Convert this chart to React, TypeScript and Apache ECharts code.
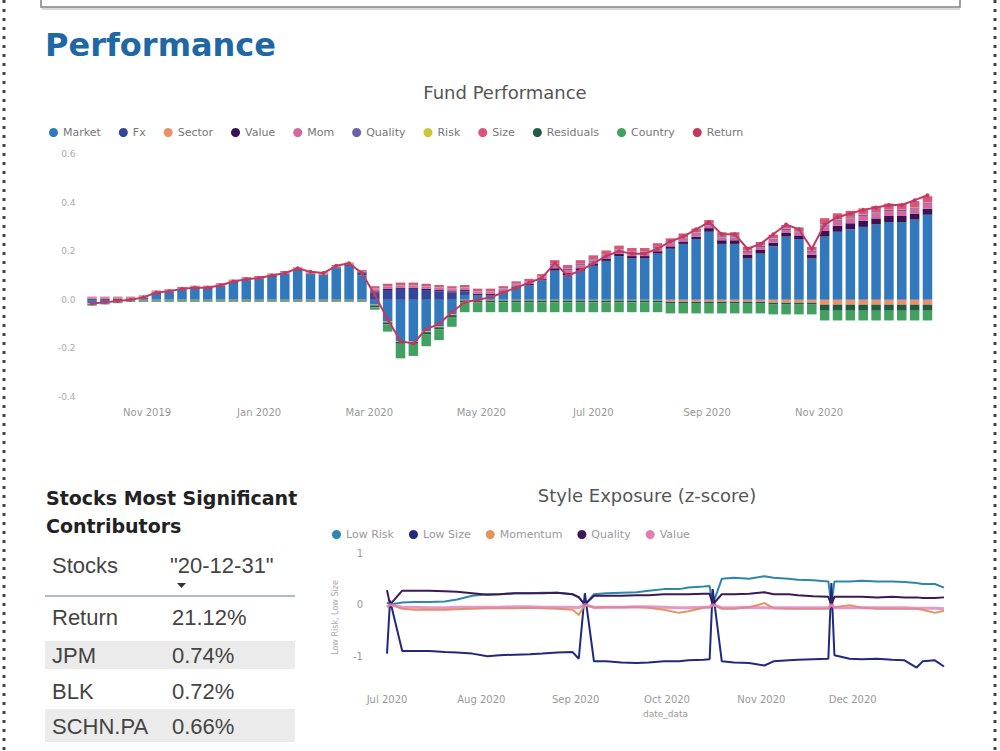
import React, { useEffect, useRef } from 'react';
import * as echarts from 'echarts';

// ---- Fund Performance: weekly attribution (Wednesday of each week) ----
const weeks = [
  '2019-10-02', '2019-10-09', '2019-10-16', '2019-10-23', '2019-10-30',
  '2019-11-06', '2019-11-13', '2019-11-20', '2019-11-27',
  '2019-12-04', '2019-12-11', '2019-12-18', '2019-12-25',
  '2020-01-01', '2020-01-08', '2020-01-15', '2020-01-22', '2020-01-29',
  '2020-02-05', '2020-02-12', '2020-02-19', '2020-02-26',
  '2020-03-04', '2020-03-11', '2020-03-18', '2020-03-25',
  '2020-04-01', '2020-04-08', '2020-04-15', '2020-04-22', '2020-04-29',
  '2020-05-06', '2020-05-13', '2020-05-20', '2020-05-27',
  '2020-06-03', '2020-06-10', '2020-06-17', '2020-06-24',
  '2020-07-01', '2020-07-08', '2020-07-15', '2020-07-22', '2020-07-29',
  '2020-08-05', '2020-08-12', '2020-08-19', '2020-08-26',
  '2020-09-02', '2020-09-09', '2020-09-16', '2020-09-23', '2020-09-30',
  '2020-10-07', '2020-10-14', '2020-10-21', '2020-10-28',
  '2020-11-04', '2020-11-11', '2020-11-18', '2020-11-25',
  '2020-12-02', '2020-12-09', '2020-12-16', '2020-12-23', '2020-12-30',
];

const market = [
  -0.015, -0.01, -0.005, 0.0, 0.005, 0.025, 0.03, 0.04, 0.045, 0.045, 0.055,
  0.07, 0.08, 0.085, 0.095, 0.105, 0.12, 0.105, 0.1, 0.13, 0.14, 0.1,
  -0.02, -0.09, -0.17, -0.17, -0.13, -0.11, -0.06, 0.02,
  0.02, 0.02, 0.03, 0.05, 0.06, 0.08, 0.12, 0.1, 0.12, 0.14,
  0.16, 0.18, 0.17, 0.17, 0.19, 0.21, 0.23, 0.25, 0.28, 0.23,
  0.23, 0.17, 0.19, 0.22, 0.26, 0.25, 0.17, 0.26, 0.28, 0.29,
  0.3, 0.31, 0.32, 0.32, 0.33, 0.35,
];
const fx = [
  0, 0, 0, 0, 0, 0, 0, 0, 0, 0, 0, 0, 0, 0, 0, 0, 0, 0, 0, 0, 0, 0.01,
  0.03, 0.04, 0.045, 0.045, 0.04, 0.035, 0.03, 0.015,
  0, 0, 0, 0, 0, 0, 0, 0, 0, 0,
  0, 0, 0, 0, 0, 0, 0, 0, 0, 0,
  0, 0, 0, 0, 0, 0, 0, 0, 0, 0,
  0, 0, 0, 0, 0, 0,
];
const sector = [
  -0.003, -0.003, -0.003, -0.003, -0.003, -0.003, -0.003, -0.003, -0.003, -0.003, -0.003,
  -0.003, -0.003, -0.003, -0.003, -0.003, -0.003, -0.003, -0.003, -0.003, -0.003, -0.003,
  -0.003, -0.003, -0.003, -0.003, -0.003, -0.003, -0.003, -0.003,
  -0.003, -0.003, -0.003, -0.003, -0.003, -0.003, -0.003, -0.003, -0.003, -0.003,
  -0.003, -0.003, -0.003, -0.003, -0.003, -0.008, -0.008, -0.008, -0.008, -0.008,
  -0.008, -0.008, -0.008, -0.012, -0.012, -0.012, -0.012, -0.02, -0.02, -0.02,
  -0.02, -0.02, -0.02, -0.02, -0.02, -0.02,
];
const value = [
  0.003, 0.003, 0.003, 0.003, 0.003, 0.003, 0.003, 0.003, 0.003, 0.003, 0.003,
  0.003, 0.003, 0.003, 0.003, 0.003, 0.003, 0.003, 0.003, 0.003, 0.003, 0.003,
  0.005, 0.005, 0.005, 0.005, 0.005, 0.005, 0.005, 0.005,
  0.005, 0.005, 0.005, 0.005, 0.005, 0.005, 0.01, 0.01, 0.01, 0.01,
  0.01, 0.01, 0.01, 0.01, 0.01, 0.01, 0.01, 0.01, 0.015, 0.015,
  0.015, 0.015, 0.015, 0.015, 0.015, 0.015, 0.015, 0.025, 0.025, 0.025,
  0.025, 0.025, 0.025, 0.025, 0.025, 0.025,
];
const mom = [
  0.003, 0.003, 0.003, 0.003, 0.003, 0.003, 0.003, 0.003, 0.003, 0.003, 0.003,
  0.003, 0.003, 0.003, 0.003, 0.003, 0.003, 0.003, 0.003, 0.003, 0.003, 0.003,
  0.008, 0.008, 0.008, 0.008, 0.008, 0.008, 0.008, 0.008,
  0.008, 0.008, 0.008, 0.008, 0.008, 0.008, 0.012, 0.012, 0.012, 0.012,
  0.012, 0.012, 0.012, 0.012, 0.012, 0.012, 0.012, 0.012, 0.012, 0.012,
  0.012, 0.012, 0.012, 0.012, 0.012, 0.012, 0.012, 0.02, 0.02, 0.02,
  0.02, 0.02, 0.02, 0.02, 0.02, 0.02,
];
const quality = [
  0.002, 0.002, 0.002, 0.002, 0.002, 0.002, 0.002, 0.002, 0.002, 0.002, 0.002,
  0.002, 0.002, 0.002, 0.002, 0.002, 0.002, 0.002, 0.002, 0.002, 0.002, 0.002,
  0.002, 0.002, 0.002, 0.002, 0.002, 0.002, 0.002, 0.002,
  0.002, 0.002, 0.002, 0.002, 0.002, 0.002, 0.005, 0.005, 0.005, 0.005,
  0.005, 0.005, 0.005, 0.005, 0.005, 0.005, 0.005, 0.005, 0.005, 0.005,
  0.005, 0.005, 0.005, 0.005, 0.005, 0.005, 0.005, 0.005, 0.005, 0.005,
  0.005, 0.005, 0.005, 0.005, 0.005, 0.005,
];
const risk = [
  0.001, 0.001, 0.001, 0.001, 0.001, 0.001, 0.001, 0.001, 0.001, 0.001, 0.001,
  0.001, 0.001, 0.001, 0.001, 0.001, 0.001, 0.001, 0.001, 0.001, 0.001, 0.001,
  0.001, 0.001, 0.001, 0.001, 0.001, 0.001, 0.001, 0.001,
  0.001, 0.001, 0.001, 0.001, 0.001, 0.001, 0.001, 0.001, 0.001, 0.001,
  0.001, 0.001, 0.001, 0.001, 0.001, 0.001, 0.001, 0.001, 0.001, 0.001,
  0.001, 0.001, 0.001, 0.001, 0.001, 0.001, 0.001, 0.001, 0.001, 0.001,
  0.001, 0.001, 0.001, 0.001, 0.001, 0.001,
];
const size = [
  0.004, 0.004, 0.004, 0.004, 0.004, 0.004, 0.004, 0.004, 0.004, 0.004, 0.004,
  0.004, 0.004, 0.004, 0.004, 0.004, 0.004, 0.004, 0.004, 0.004, 0.004, 0.004,
  0.01, 0.01, 0.01, 0.01, 0.01, 0.01, 0.01, 0.01,
  0.01, 0.01, 0.01, 0.01, 0.01, 0.01, 0.015, 0.015, 0.015, 0.015,
  0.015, 0.015, 0.015, 0.015, 0.015, 0.015, 0.015, 0.015, 0.015, 0.015,
  0.015, 0.015, 0.015, 0.015, 0.015, 0.015, 0.015, 0.025, 0.025, 0.025,
  0.025, 0.025, 0.025, 0.025, 0.025, 0.025,
];
const residuals = [
  -0.003, -0.003, -0.003, -0.003, -0.003, -0.003, -0.003, -0.003, -0.003, -0.003, -0.003,
  -0.003, -0.003, -0.003, -0.003, -0.003, -0.003, -0.003, -0.003, -0.003, -0.003, -0.003,
  -0.008, -0.008, -0.008, -0.008, -0.008, -0.008, -0.008, -0.008,
  -0.008, -0.008, -0.008, -0.008, -0.008, -0.008, -0.008, -0.008, -0.008, -0.008,
  -0.008, -0.008, -0.008, -0.008, -0.008, -0.008, -0.008, -0.008, -0.008, -0.008,
  -0.008, -0.008, -0.008, -0.008, -0.008, -0.008, -0.008, -0.025, -0.025, -0.025,
  -0.025, -0.025, -0.025, -0.025, -0.025, -0.025,
];
const country = [
  -0.003, -0.003, -0.003, -0.003, -0.003, -0.003, -0.003, -0.003, -0.003, -0.003, -0.003,
  -0.003, -0.003, -0.003, -0.003, -0.003, -0.003, -0.003, -0.003, -0.003, -0.003, -0.003,
  -0.01, -0.03, -0.06, -0.05, -0.05, -0.045, -0.04, -0.04,
  -0.04, -0.04, -0.04, -0.04, -0.04, -0.04, -0.04, -0.04, -0.04, -0.04,
  -0.04, -0.04, -0.04, -0.04, -0.04, -0.04, -0.04, -0.04, -0.04, -0.04,
  -0.04, -0.04, -0.04, -0.04, -0.04, -0.04, -0.04, -0.04, -0.04, -0.04,
  -0.04, -0.04, -0.04, -0.04, -0.04, -0.04,
];
const fundReturn = [
  -0.015, -0.01, -0.005, 0.0, 0.01, 0.03, 0.035, 0.045, 0.05, 0.05, 0.06,
  0.075, 0.085, 0.09, 0.1, 0.11, 0.13, 0.115, 0.11, 0.14, 0.15, 0.11,
  0.02, -0.08, -0.17, -0.18, -0.12, -0.1, -0.05, -0.01,
  0.0, 0.01, 0.03, 0.05, 0.07, 0.09, 0.15, 0.1, 0.12, 0.15,
  0.18, 0.2, 0.19, 0.19, 0.21, 0.24, 0.26, 0.29, 0.32, 0.27,
  0.27, 0.21, 0.23, 0.27, 0.31, 0.29, 0.21, 0.31, 0.34, 0.355,
  0.37, 0.38, 0.39, 0.39, 0.41, 0.43,
];

const perfNames = ['Market', 'Fx', 'Sector', 'Value', 'Mom', 'Quality', 'Risk', 'Size', 'Residuals', 'Country'];
const perfValues = [market, fx, sector, value, mom, quality, risk, size, residuals, country];
const perfColors = ['#3178bd', '#34459c', '#e8916a', '#3b1253', '#d4679f', '#6c5fa7', '#c9c83a', '#d9557a', '#1f5c43', '#42a060'];
const returnColor = '#c23a60';
const perfTickMonths = ['2019-11-01', '2020-01-01', '2020-03-01', '2020-05-01', '2020-07-01', '2020-09-01', '2020-11-01'];

// ---- Style Exposure (z-score) ----
const styleDates = [
  '2020-07-01', '2020-07-02', '2020-07-06', '2020-07-10', '2020-07-15', '2020-07-20', '2020-07-24', '2020-07-29',
  '2020-08-03', '2020-08-07', '2020-08-12', '2020-08-17', '2020-08-21', '2020-08-26', '2020-08-31',
  '2020-09-02', '2020-09-04', '2020-09-07', '2020-09-11', '2020-09-16', '2020-09-21', '2020-09-25', '2020-09-30',
  '2020-10-05', '2020-10-08', '2020-10-13', '2020-10-15', '2020-10-16', '2020-10-19', '2020-10-23', '2020-10-28',
  '2020-11-02', '2020-11-05', '2020-11-10', '2020-11-13', '2020-11-18', '2020-11-23', '2020-11-24', '2020-11-25', '2020-11-30',
  '2020-12-04', '2020-12-09', '2020-12-14', '2020-12-18', '2020-12-22', '2020-12-24', '2020-12-28', '2020-12-31',
];
const lowRisk = [
  0.04, 0.0, 0.04, 0.05, 0.05, 0.06, 0.1, 0.17,
  0.2, 0.2, 0.22, 0.22, 0.23, 0.23, 0.2,
  0.15, 0.0, 0.2, 0.22, 0.23, 0.24, 0.27, 0.3,
  0.3, 0.33, 0.35, 0.36, 0.0, 0.5, 0.52, 0.5,
  0.55, 0.52, 0.5, 0.48, 0.47, 0.45, 0.0, 0.45, 0.45,
  0.46, 0.45, 0.45, 0.44, 0.42, 0.4, 0.4, 0.33,
];
const lowSize = [
  -0.95, 0.08, -0.9, -0.9, -0.9, -0.92, -0.93, -0.95,
  -1.0, -0.98, -0.97, -0.96, -0.95, -0.93, -0.92,
  -1.05, 0.22, -1.1, -1.1, -1.12, -1.13, -1.12, -1.1,
  -1.1, -1.08, -1.07, -1.06, 0.3, -1.1, -1.12, -1.13,
  -1.18, -1.1, -1.08, -1.07, -1.06, -1.05, 0.42, -0.98, -1.05,
  -1.06, -1.05, -1.07, -1.08, -1.22, -1.1, -1.08, -1.2,
];
const momentum = [
  -0.05, 0.0, -0.08, -0.1, -0.1, -0.1, -0.09, -0.08,
  -0.07, -0.07, -0.07, -0.06, -0.07, -0.08, -0.1,
  -0.2, 0.0, -0.06, -0.05, -0.05, -0.05, -0.06, -0.1,
  -0.16, -0.13, -0.06, -0.05, 0.0, -0.08, -0.08, -0.05,
  0.03, -0.07, -0.08, -0.08, -0.08, -0.08, 0.0, -0.05, -0.01,
  -0.06, -0.08, -0.08, -0.08, -0.08, -0.1, -0.16, -0.12,
];
const qualityZ = [
  0.28, 0.0, 0.27, 0.27, 0.27, 0.26, 0.25, 0.22,
  0.19, 0.2, 0.22, 0.22, 0.22, 0.23, 0.2,
  0.14, 0.0, 0.17, 0.17, 0.17, 0.18, 0.18, 0.2,
  0.2, 0.2, 0.21, 0.21, 0.0, 0.2, 0.2, 0.21,
  0.24, 0.2, 0.2, 0.18, 0.16, 0.15, 0.0, 0.15, 0.15,
  0.15, 0.14, 0.15, 0.14, 0.14, 0.13, 0.13, 0.14,
];
const valueZ = [
  -0.04, 0.0, -0.05, -0.05, -0.06, -0.06, -0.05, -0.05,
  -0.05, -0.05, -0.04, -0.04, -0.05, -0.05, -0.05,
  -0.06, 0.0, -0.05, -0.05, -0.05, -0.04, -0.04, -0.05,
  -0.06, -0.06, -0.05, -0.05, 0.0, -0.06, -0.06, -0.05,
  -0.06, -0.06, -0.06, -0.06, -0.06, -0.06, 0.0, -0.06, -0.06,
  -0.06, -0.06, -0.06, -0.06, -0.07, -0.07, -0.07, -0.08,
];
const styleNames = ['Low Risk', 'Low Size', 'Momentum', 'Quality', 'Value'];
const styleValues = [lowRisk, lowSize, momentum, qualityZ, valueZ];
const styleColors = ['#2f86ad', '#1f2a7e', '#e2955c', '#3b1a58', '#e07fb5'];
const styleTickMonths = ['2020-07-01', '2020-08-01', '2020-09-01', '2020-10-01', '2020-11-01', '2020-12-01'];

// ---- Contributors table ----
const tableHeader = ['Stocks', '"20-12-31"'];
const tableStocks = ['Return', 'JPM', 'BLK', 'SCHN.PA'];
const tableValues = ['21.12%', '0.74%', '0.72%', '0.66%'];

const MONTHS = ['Jan', 'Feb', 'Mar', 'Apr', 'May', 'Jun', 'Jul', 'Aug', 'Sep', 'Oct', 'Nov', 'Dec'];
const DAY = 86400000;
// ISO day string -> local timestamp (numeric day scales)
const ts = (s: string) => {
  const [y, m, d] = s.split('-').map(Number);
  return new Date(y, m - 1, d).getTime();
};
const monthLabel = (v: number) => {
  const d = new Date(v + DAY / 2);
  return `${MONTHS[d.getMonth()]} ${d.getFullYear()}`;
};
const FONT = '"DejaVu Sans", sans-serif';
const TABLE_FONT = '"Liberation Sans", Arial, sans-serif';

function buildOption() {
  const barSeries = perfNames.map((name, k) => ({
    name,
    type: 'bar',
    stack: 'perf',
    xAxisIndex: 0,
    yAxisIndex: 0,
    barWidth: 9.5,
    itemStyle: { color: perfColors[k] },
    data: perfValues[k],
  }));

  const returnSeries = {
    name: 'Return',
    type: 'line',
    xAxisIndex: 0,
    yAxisIndex: 0,
    z: 5,
    symbol: 'circle',
    symbolSize: 4,
    itemStyle: { color: returnColor },
    lineStyle: { color: returnColor, width: 2 },
    data: fundReturn,
  };

  const styleSeries = styleNames.map((name, k) => ({
    name,
    type: 'line',
    xAxisIndex: 1,
    yAxisIndex: 1,
    showSymbol: false,
    symbol: 'circle',
    itemStyle: { color: styleColors[k] },
    lineStyle: { color: styleColors[k], width: name === 'Value' ? 3 : 2, opacity: name === 'Value' ? 0.8 : 1 },
    data: styleDates.map((d, i) => [ts(d), styleValues[k][i]]),
  }));

  const graphic: any[] = [
    // dotted page edges
    { type: 'line', shape: { x1: 4, y1: 0, x2: 4, y2: 751 }, style: { stroke: '#444', lineWidth: 3, lineDash: [3, 6] } },
    { type: 'line', shape: { x1: 995, y1: 0, x2: 995, y2: 751 }, style: { stroke: '#444', lineWidth: 3, lineDash: [3, 6] } },
    // box above the section
    { type: 'rect', shape: { x: 41, y: -10, width: 919, height: 17 }, style: { fill: 'none', stroke: '#808080', lineWidth: 1.5 } },
    { type: 'line', shape: { x1: 42, y1: 9, x2: 960, y2: 9 }, style: { stroke: '#d8d8d8', lineWidth: 2 } },
    {
      type: 'text', x: 45, y: 45,
      style: { text: 'Performance', fill: '#2067a5', fontSize: 32, fontWeight: 'bold', fontFamily: FONT, align: 'left', verticalAlign: 'middle' },
    },
    {
      type: 'text', x: 505, y: 92,
      style: { text: 'Fund Performance', fill: '#555', fontSize: 18, fontFamily: FONT, align: 'center', verticalAlign: 'middle' },
    },
    {
      type: 'text', x: 647, y: 495,
      style: { text: 'Style Exposure (z-score)', fill: '#555', fontSize: 18, fontFamily: FONT, align: 'center', verticalAlign: 'middle' },
    },
    {
      type: 'text', x: 46, y: 498,
      style: { text: 'Stocks Most Significant', fill: '#222', fontSize: 19, fontWeight: 'bold', fontFamily: FONT, align: 'left', verticalAlign: 'middle' },
    },
    {
      type: 'text', x: 46, y: 526,
      style: { text: 'Contributors', fill: '#222', fontSize: 19, fontWeight: 'bold', fontFamily: FONT, align: 'left', verticalAlign: 'middle' },
    },
    // table striping and header rule
    { type: 'rect', shape: { x: 45, y: 641, width: 250, height: 28 }, style: { fill: '#ebebeb' } },
    { type: 'rect', shape: { x: 45, y: 709, width: 250, height: 33 }, style: { fill: '#ebebeb' } },
    { type: 'line', shape: { x1: 45, y1: 596, x2: 295, y2: 596 }, style: { stroke: '#a8bfcb', lineWidth: 2 } },
    { type: 'polygon', shape: { points: [[177, 583], [186, 583], [181.5, 588]] }, style: { fill: '#333' } },
  ];

  const headerX = [52, 170];
  tableHeader.forEach((t, i) => {
    graphic.push({
      type: 'text', x: headerX[i], y: 565,
      style: { text: t, fill: '#444', fontSize: 22, fontFamily: TABLE_FONT, align: 'left', verticalAlign: 'middle' },
    });
  });
  const rowY = [617, 655, 691, 726];
  tableStocks.forEach((s, i) => {
    graphic.push({
      type: 'text', x: 52, y: rowY[i],
      style: { text: s, fill: '#444', fontSize: 22, fontFamily: TABLE_FONT, align: 'left', verticalAlign: 'middle' },
    });
    graphic.push({
      type: 'text', x: 172, y: rowY[i],
      style: { text: tableValues[i], fill: '#444', fontSize: 22, fontFamily: TABLE_FONT, align: 'left', verticalAlign: 'middle' },
    });
  });

  const hiddenLine = { axisLine: { show: false }, axisTick: { show: false }, splitLine: { show: false } };

  // the weekly category band spans 7 days, centred on each Wednesday
  const perfStart = ts(weeks[0]) - 3.5 * DAY;
  const perfEnd = perfStart + weeks.length * 7 * DAY;

  return {
    animation: false,
    backgroundColor: '#ffffff',
    textStyle: { fontFamily: FONT },
    graphic,
    legend: [
      {
        data: [...perfNames, 'Return'],
        left: 44,
        top: 122,
        icon: 'circle',
        itemWidth: 9,
        itemHeight: 9,
        itemGap: 18,
        textStyle: { fontSize: 11, color: '#777', fontFamily: FONT },
      },
      {
        data: styleNames.map((name, k) => ({ name, itemStyle: { color: styleColors[k] } })),
        left: 327,
        top: 524,
        icon: 'circle',
        itemWidth: 9,
        itemHeight: 9,
        itemGap: 15,
        textStyle: { fontSize: 11, color: '#999', fontFamily: FONT },
      },
    ],
    grid: [
      { left: 85.6, top: 154, width: 848.3, height: 243 },
      { left: 387, top: 553, width: 557, height: 129 },
    ],
    xAxis: [
      {
        type: 'category',
        gridIndex: 0,
        data: weeks,
        boundaryGap: true,
        ...hiddenLine,
        axisLabel: { show: false },
      },
      {
        type: 'value',
        gridIndex: 1,
        min: ts(styleTickMonths[0]),
        max: ts('2020-12-31'),
        name: 'date_data',
        nameLocation: 'middle',
        nameGap: 27,
        nameTextStyle: { fontSize: 9, color: '#999' },
        ...hiddenLine,
        axisLabel: {
          customValues: styleTickMonths.map(ts),
          formatter: monthLabel,
          color: '#999',
          fontSize: 10,
          margin: 12,
          hideOverlap: false,
        },
      },
      {
        // month labels for the weekly chart, on a day scale sharing its grid
        type: 'value',
        gridIndex: 0,
        position: 'bottom',
        min: perfStart,
        max: perfEnd,
        ...hiddenLine,
        axisLabel: {
          customValues: perfTickMonths.map(ts),
          formatter: monthLabel,
          color: '#999',
          fontSize: 10,
          margin: 10,
          hideOverlap: false,
        },
      },
    ],
    yAxis: [
      {
        type: 'value',
        gridIndex: 0,
        min: -0.4,
        max: 0.6,
        interval: 0.2,
        ...hiddenLine,
        axisLabel: {
          formatter: (v: number) => (Math.abs(v) < 1e-9 ? '0.0' : v.toFixed(1)),
          color: '#aaa',
          fontSize: 9,
          margin: 10,
        },
      },
      {
        type: 'value',
        gridIndex: 1,
        min: -1.5,
        max: 1,
        interval: 0.5,
        name: 'Low Risk, Low Size',
        nameLocation: 'middle',
        nameRotate: 90,
        nameGap: 48,
        nameTextStyle: { fontSize: 8, color: '#aaa' },
        ...hiddenLine,
        axisLabel: {
          formatter: (v: number) => (Math.abs(v - Math.round(v)) < 1e-9 ? String(Math.round(v)) : ''),
          color: '#999',
          fontSize: 10,
          margin: 24,
        },
      },
    ],
    series: [...barSeries, returnSeries, ...styleSeries],
  };
}

export default function App() {
  const ref = useRef<HTMLDivElement>(null);
  useEffect(() => {
    if (!ref.current) return;
    const chart = echarts.init(ref.current, undefined, { renderer: 'svg' });
    chart.setOption(buildOption() as any);
    return () => chart.dispose();
  }, []);
  return (
    <div
      ref={ref}
      style={{ position: 'absolute', left: 0, top: 0, width: 1000, height: 751, background: '#fff' }}
    />
  );
}
